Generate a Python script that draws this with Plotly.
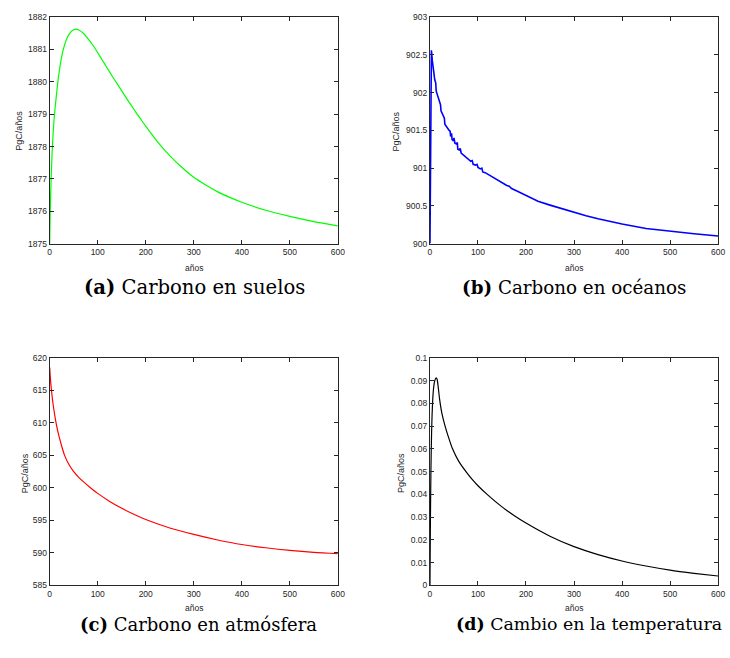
import plotly.graph_objects as go

# ---------------- data ----------------
years_soil = [0, 1, 2, 3, 5, 7.5, 10, 13, 17, 20, 24, 28, 32, 36, 40, 45, 50, 55, 60, 70, 80, 90, 100, 110, 120, 130, 140, 150, 160, 170, 180, 190, 200, 225, 250, 275, 300, 325, 350, 375, 400, 450, 500, 550, 600]
soil = [1875.0, 1875.9, 1876.5, 1877.0, 1877.8, 1878.5, 1879.0, 1879.45, 1880.0, 1880.33, 1880.7, 1880.98, 1881.19, 1881.35, 1881.46, 1881.56, 1881.61, 1881.63, 1881.61, 1881.5, 1881.33, 1881.13, 1880.9, 1880.66, 1880.42, 1880.18, 1879.95, 1879.72, 1879.49, 1879.27, 1879.05, 1878.84, 1878.63, 1878.14, 1877.72, 1877.36, 1877.05, 1876.81, 1876.6, 1876.43, 1876.28, 1876.03, 1875.84, 1875.68, 1875.55]

years_ocean = [0, 1, 2, 3, 5, 8, 10, 12, 13, 15, 18, 20, 22, 23, 26, 28, 30, 31, 34, 38, 40, 42, 43, 45, 46, 49, 50, 52, 55, 57, 58, 61, 63, 65, 70, 75, 78, 80, 85, 88, 90, 95, 98, 100, 105, 108, 110, 115, 120, 125, 130, 135, 140, 145, 150, 160, 165, 170, 180, 190, 200, 210, 225, 250, 275, 300, 325, 350, 375, 400, 450, 500, 550, 600]
ocean = [900.0, 901.6, 902.3, 902.56, 902.42, 902.25, 902.17, 902.13, 902.02, 901.98, 901.92, 901.87, 901.84, 901.76, 901.71, 901.69, 901.66, 901.58, 901.55, 901.52, 901.5, 901.49, 901.42, 901.46, 901.38, 901.36, 901.4, 901.33, 901.32, 901.34, 901.25, 901.24, 901.26, 901.2, 901.17, 901.15, 901.13, 901.11, 901.09, 901.1, 901.05, 901.04, 901.05, 901.01, 900.99, 901.0, 900.95, 900.94, 900.92, 900.9, 900.88, 900.86, 900.84, 900.83, 900.8, 900.77, 900.76, 900.73, 900.7, 900.67, 900.63, 900.6, 900.56, 900.51, 900.46, 900.41, 900.37, 900.33, 900.29, 900.26, 900.2, 900.16, 900.13, 900.1]

years_atm = [0, 1, 2, 3, 5, 7, 9, 12, 16, 20, 25, 31, 40, 50, 60, 70, 86, 100, 125, 150, 175, 200, 250, 300, 350, 400, 450, 500, 550, 600]
atm = [618.5, 617.3, 616.3, 615.5, 614.1, 612.9, 611.9, 610.5, 609.0, 607.75, 606.4, 605.0, 603.6, 602.5, 601.65, 600.95, 599.95, 599.15, 597.9, 596.85, 595.93, 595.13, 593.83, 592.83, 591.98, 591.28, 590.78, 590.38, 590.08, 589.88]

years_temp = [0, 1, 2, 3, 4, 5, 6, 8, 10, 13, 15, 17, 20, 25, 31.5, 38, 47, 60, 75, 87, 100, 119, 150, 175, 200, 250, 300, 350, 400, 450, 500, 550, 600]
temp = [0.0, 0.03, 0.05, 0.063, 0.072, 0.078, 0.0825, 0.0875, 0.09, 0.0912, 0.0905, 0.0875, 0.082, 0.0755, 0.07, 0.0655, 0.06, 0.0545, 0.05, 0.0468, 0.0438, 0.04, 0.0345, 0.0307, 0.0274, 0.0216, 0.017, 0.0135, 0.0107, 0.0085, 0.0067, 0.0053, 0.0041]

x_ticks = [0, 100, 200, 300, 400, 500, 600]
y_label = "PgC/años"
x_label = "años"
captions = ["<b>(a)</b> Carbono en suelos", "<b>(b)</b> Carbono en océanos",
            "<b>(c)</b> Carbono en atmósfera", "<b>(d)</b> Cambio en la temperatura"]

soil_ticks = [1875, 1876, 1877, 1878, 1879, 1880, 1881, 1882]
ocean_ticks = [900, 900.5, 901, 901.5, 902, 902.5, 903]
atm_ticks = [585, 590, 595, 600, 605, 610, 615, 620]
temp_ticks = [0, 0.01, 0.02, 0.03, 0.04, 0.05, 0.06, 0.07, 0.08, 0.09, 0.1]
temp_tick_text = ["0", "0.01", "0.02", "0.03", "0.04", "0.05", "0.06", "0.07", "0.08", "0.09", "0.1"]

# ---------------- layout helpers ----------------
W, H = 730, 658
def px(x):
    return x / W
def py(y):
    return 1 - y / H

AX = "#262626"
SANS = "Liberation Sans, Arial, sans-serif"
tickfont = dict(family=SANS, size=8.5, color=AX)

panels = [
    ((48.3, 340), (12.3, 242.3), [1875, 1882], soil_ticks, None),
    ((433.3, 725), (12.3, 242.3), [900, 903], ocean_ticks, None),
    ((48.3, 340), (358.3, 589.3), [585, 620], atm_ticks, None),
    ((433.3, 725), (358.3, 589.3), [0, 0.1], temp_ticks, temp_tick_text),
]

fig = go.Figure()
series = [(years_soil, soil, "#00FF00", 1.2, "spline"), (years_ocean, ocean, "#0000FF", 1.6, "linear"),
          (years_atm, atm, "#FF0000", 1.2, "spline"), (years_temp, temp, "#000000", 1.2, "spline")]

for i, (xs, ys, col, w, shp) in enumerate(series):
    k = "" if i == 0 else str(i + 1)
    line = dict(color=col, width=w, shape=shp)
    if shp == "spline":
        line["smoothing"] = 0.7
    fig.add_trace(go.Scatter(x=xs, y=ys, mode="lines", line=line,
                             xaxis="x" + k, yaxis="y" + k, showlegend=False, hoverinfo="skip"))

layout = dict(width=W, height=H, margin=dict(l=0, r=0, t=0, b=0),
              paper_bgcolor="white", plot_bgcolor="white", showlegend=False)

annotations = []
ytitle_x = [17, 399.3, 22.7, 403.3]
ytitle_y = [128, 128, 475, 475]
xtitle_y = [267, 267, 612.5, 612.5]
cap_x = [195, 579, 199, 594]
cap_y = [287, 287, 629, 629]
cap_size = [19.6, 18.3, 18.0, 17.4]

for i, (xd, yd, yr, yt, ytt) in enumerate(panels):
    k = "" if i == 0 else str(i + 1)
    layout["xaxis" + k] = dict(domain=[px(xd[0]), px(xd[1])], range=[0, 600], anchor="y" + k,
                               tickvals=x_ticks, ticks="inside", ticklen=4, tickcolor=AX, tickwidth=1,
                               showline=True, linecolor=AX, linewidth=1, mirror="ticks",
                               showgrid=False, zeroline=False, tickfont=tickfont)
    ya = dict(domain=[py(yd[1]), py(yd[0])], range=yr, anchor="x" + k,
              tickvals=yt, ticks="inside", ticklen=4, tickcolor=AX, tickwidth=1,
              showline=True, linecolor=AX, linewidth=1, mirror="ticks",
              showgrid=False, zeroline=False, tickfont=tickfont)
    if ytt is not None:
        ya["ticktext"] = ytt
    layout["yaxis" + k] = ya
    annotations.append(dict(text=y_label, x=px(ytitle_x[i]), y=py(ytitle_y[i]), xref="paper", yref="paper",
                            showarrow=False, textangle=-90, xanchor="center", yanchor="middle", borderpad=0,
                            font=dict(family=SANS, size=9, color=AX)))
    annotations.append(dict(text=x_label, x=px((xd[0] + xd[1]) / 2), y=py(xtitle_y[i]), xref="paper", yref="paper",
                            showarrow=False, xanchor="center", yanchor="middle", borderpad=0,
                            font=dict(family=SANS, size=8.5, color=AX)))
    annotations.append(dict(text=captions[i], x=px(cap_x[i]), y=py(cap_y[i]), xref="paper", yref="paper",
                            showarrow=False, xanchor="center", yanchor="middle", borderpad=0,
                            font=dict(family="DejaVu Serif, serif", size=cap_size[i], color="#000000")))

layout["annotations"] = annotations
fig.update_layout(**layout)
fig.write_html("out.html")
